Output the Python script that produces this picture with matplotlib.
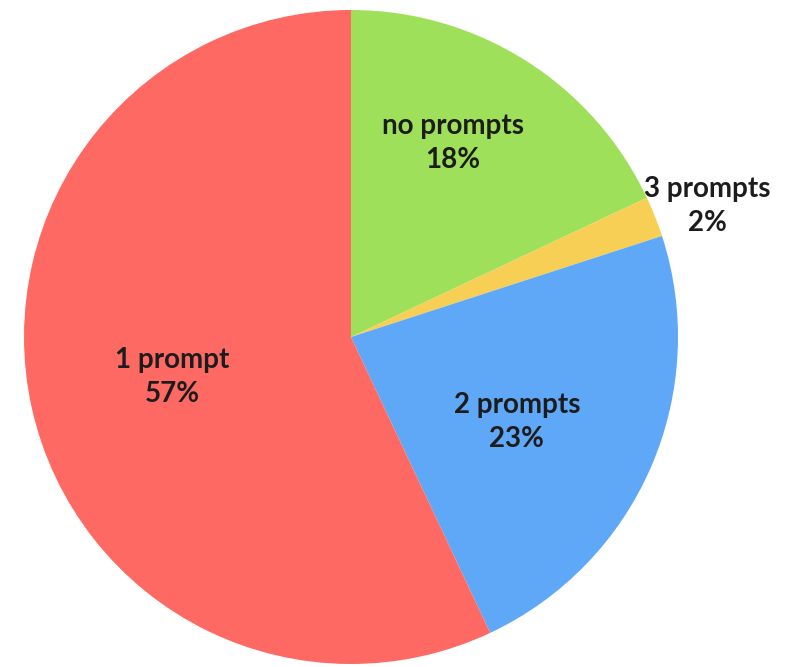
import matplotlib
matplotlib.use('Agg')
import matplotlib.pyplot as plt
import numpy as np

plt.rcParams['font.family'] = ['Lato', 'DejaVu Sans']

labels = ['no prompts', '3 prompts', '2 prompts', '1 prompt']
shares = [18, 2, 23, 57]
colors = ['#9fe05a', '#f7cf55', '#5fa8f8', '#fe6a63']

# radial distance of each label and a small angular nudge (degrees)
label_r = [0.67, 1.16, 0.57, 0.56]
label_nudge = [4.7, -1.4, -3.7, 0.0]

W, H = 793, 667
fig = plt.figure(figsize=(W / 100, H / 100), dpi=100)
cx, cy, R = 351, 337, 327
ax = fig.add_axes([(cx - R) / W, (H - cy - R) / H, 2 * R / W, 2 * R / H])

wedges, _ = ax.pie(shares, colors=colors, startangle=90, counterclock=False,
                   radius=1.0, wedgeprops=dict(linewidth=0))

total = float(sum(shares))
for w, lab, val, r, d in zip(wedges, labels, shares, label_r, label_nudge):
    ang = np.deg2rad((w.theta1 + w.theta2) / 2 + d)
    ax.text(r * np.cos(ang), r * np.sin(ang),
            '%s\n%d%%' % (lab, round(100 * val / total)),
            ha='center', va='center', fontsize=20, fontweight='bold',
            color='#1c1c1c', linespacing=1.35)

ax.set_xlim(-1, 1)
ax.set_ylim(-1, 1)
ax.set_aspect('equal')
ax.axis('off')

fig.savefig('out.png', dpi=100)
